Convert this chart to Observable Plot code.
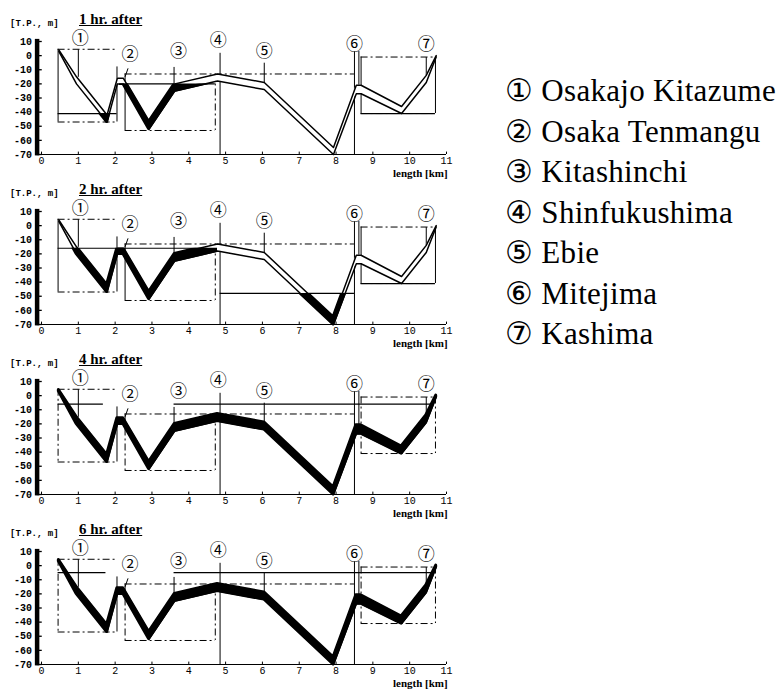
<!DOCTYPE html>
<html><head><meta charset="utf-8">
<script src="https://cdn.jsdelivr.net/npm/d3@7"></script>
<script src="https://cdn.jsdelivr.net/npm/@observablehq/plot@0.6"></script>
<style>
body{margin:0;background:#fff;}
#wrap{position:relative;width:783px;height:691px;overflow:hidden;background:#fff;}
.panel{position:absolute;left:0;}
.unit{position:absolute;left:10px;font:bold 9px "Liberation Mono",monospace;white-space:nowrap;}
.ptitle{position:absolute;left:79px;font:bold 15px/16px "Liberation Serif",serif;text-decoration:underline;white-space:nowrap;}
.len{position:absolute;left:393px;font:bold 11px/13px "Liberation Serif",serif;white-space:nowrap;}
.legend{position:absolute;left:505px;top:71px;font:31px "Liberation Serif",serif;line-height:40.5px;letter-spacing:0.3px;white-space:nowrap;}
</style></head><body><div id="wrap"></div>
<script>
// ---- data ----
const panelTitles = ["1 hr. after", "2 hr. after", "4 hr. after", "6 hr. after"];
const yUnit = "[T.P., m]";
const xLabel = "length [km]";
const xTicks = [0,1,2,3,4,5,6,7,8,9,10,11];
const yTicks = [10,0,-10,-20,-30,-40,-50,-60,-70];

// tunnel profile (km, top and bottom elevation in T.P. m)
const tunnelX      = [0.47, 0.95, 1.78, 2.06, 2.22, 2.92, 3.62, 4.78, 6.05, 7.93, 8.55, 8.68, 9.78, 10.45, 10.72];
const tunnelTop    = [4,    -15,  -42,  -16,  -16,  -47,  -20,  -13,  -19,  -65,  -21,  -21,  -36,  -14,   0];
const tunnelBottom = [3,    -20,  -47,  -20,  -20,  -52,  -25,  -18,  -24,  -70,  -27,  -27,  -41,  -19,  -1];

// stations
const stationMarks = ["①","②","③","④","⑤","⑥","⑦"];
const stationNames = ["Osakajo Kitazume","Osaka Tenmangu","Kitashinchi","Shinfukushima","Ebie","Mitejima","Kashima"];
const stationLabelX = [1.05, 2.4, 3.72, 4.8, 6.05, 8.5, 10.45];
const stationLabelY = [11.8, 1, 3, 11, 3, 8, 8];
const stationTopX   = [1.0, 2.35, 3.6, 4.85, 6.05, 8.5, 10.45];
const stationBotX   = [1.0, 2.27, 3.6, 4.85, 6.05, 8.5, 10.45];
const stationTopY   = [4.5, -9, -8, 2, -5, 3, -1];
const stationBotY   = [-15, -15, -20, -70, -19, -70, -14];

// catchment boxes (dash-dot)
const boxX1 = [0.45, 2.27, 4.72, 8.68];
const boxX2 = [2.05, 4.72, 8.5, 10.7];
const boxTop = [4.5, -13, -13, -1];
const boxBottom = [-47, -53, -70, -41];

// water surface lines per panel: [x1, x2, level]
const waterLines = [
  [[0.45, 2.05, -41], [2.27, 4.72, -20], [8.68, 10.7, -41]],
  [[0.45, 4.72, -16], [4.85, 8.5, -48], [8.68, 10.7, -41]],
  [[0.45, 1.68, -6], [3.6, 10.65, -6]],
  [[0.45, 1.75, -5], [3.6, 10.65, -5]]
];
// flooded tunnel regions per panel: [x1, x2, level]
const floodRegions = [
  [[0.4, 2.12, -41], [2.12, 4.78, -20]],
  [[0.4, 4.78, -16], [4.78, 8.55, -48]],
  [[0.4, 10.8, 10]],
  [[0.4, 10.8, 10]]
];

// ---- build ----
const tunnel = tunnelX.map((x, i) => ({x, top: tunnelTop[i], bottom: tunnelBottom[i]}));
const stations = stationMarks.map((m, i) => ({m, lx: stationLabelX[i], ly: stationLabelY[i],
  tx: stationTopX[i], bx: stationBotX[i], ty: stationTopY[i], by: stationBotY[i]}));
const boxes = boxX1.map((x1, i) => ({x1, x2: boxX2[i], top: boxTop[i], bottom: boxBottom[i]}));

const wrap = document.getElementById("wrap");
const W = 460, H = 170, X0 = -0.12;
const dash = "7,3,2,3";

panelTitles.forEach((title, p) => {
  const top = p * 170;
  const lines = waterLines[p].map(([x1, x2, y]) => ({x1, x2, y}));
  const floods = floodRegions[p];
  const marks = [
    // boxes
    Plot.ruleY(boxes, {y: "top", x1: "x1", x2: "x2", strokeDasharray: dash, strokeWidth: 1}),
    Plot.ruleY(boxes.filter(b => b.bottom > -70), {y: "bottom", x1: "x1", x2: "x2", strokeDasharray: dash, strokeWidth: 1}),
    Plot.ruleX(boxes.slice(0, 2), {x: "x1", y1: "top", y2: "bottom", strokeWidth: 1, strokeDasharray: p < 2 ? null : dash}),
    Plot.ruleX(boxes.slice(0, 1), {x: "x2", y1: -8, y2: "bottom", strokeWidth: 1}),
    Plot.ruleX(boxes.slice(1, 2), {x: "x2", y1: "top", y2: "bottom", strokeWidth: 1, strokeDasharray: dash}),
    Plot.ruleX(boxes.slice(3), {x: "x1", y1: "top", y2: "bottom", strokeWidth: 1, strokeDasharray: p < 2 ? null : dash}),
    Plot.ruleX(boxes.slice(3), {x: "x2", y1: "top", y2: "bottom", strokeWidth: 1, strokeDasharray: p < 2 ? null : dash}),
    // water surface
    Plot.ruleY(lines, {y: "y", x1: "x1", x2: "x2", strokeWidth: 1.2}),
    // station lines
    Plot.link(stations, {x1: "tx", y1: "ty", x2: "bx", y2: "by", strokeWidth: 1}),
    Plot.ruleX([8.62], {y1: 3, y2: -21, strokeWidth: 1}),
    // tunnel interior
    Plot.areaY(tunnel, {x: "x", y1: "bottom", y2: "top", fill: "white"}),
    Plot.line(tunnel, {x: "x", y: "top", stroke: "black", strokeWidth: 1.5}),
    Plot.line(tunnel, {x: "x", y: "bottom", stroke: "black", strokeWidth: 1.5}),
    ...floods.map(() => Plot.areaY(tunnel, {x: "x", y1: "bottom", y2: "top", fill: "black",
      stroke: "black", strokeWidth: 3, strokeLinejoin: "round"})),
    // axes
    Plot.ruleX([X0], {y1: -71, y2: 11.5, strokeWidth: 4.5}),
    Plot.ruleY(yTicks, {y: d => d, x1: X0, x2: 0.02, strokeWidth: 1.3}),
    Plot.ruleY([-70], {x1: X0, x2: 11, strokeWidth: 1.2}),
    Plot.ruleX(xTicks, {x: d => d, y1: -70, y2: -68.3, strokeWidth: 1}),
    Plot.axisY({ticks: yTicks, tickSize: 0, tickPadding: 5, tickFormat: d => String(d),
      fontSize: 10, fontFamily: "Liberation Mono", fontWeight: "bold", label: null}),
    Plot.axisX({ticks: xTicks, tickSize: 0, tickPadding: 2, tickFormat: d => String(d),
      fontSize: 10, fontFamily: "Liberation Mono", label: null}),
    // station labels
    Plot.text(stations, {x: "lx", y: "ly", text: "m", fontSize: 17, fontFamily: "Noto Sans CJK JP", fill: "black"})
  ];
  const svg = Plot.plot({
    width: W, height: H,
    marginTop: 41, marginBottom: 16, marginLeft: 36.6, marginRight: 14,
    x: {domain: [X0, 11]},
    y: {domain: [-70, 10]},
    style: {background: "transparent", overflow: "visible", color: "black"},
    marks
  });
  svg.classList.add("panel");
  svg.style.top = top + "px";
  svg.style.position = "absolute";
  svg.style.left = "0px";

  // clip the flooded parts of the tunnel to below each water level
  const sxo = svg.scale("x"), syo = svg.scale("y");
  const fx = sxo.apply ? (v => sxo.apply(v)) : d3.scaleLinear(sxo.domain, sxo.range);
  const fy = syo.apply ? (v => syo.apply(v)) : d3.scaleLinear(syo.domain, syo.range);
  const areas = svg.querySelectorAll('g[aria-label="area"]');
  const ns = "http://www.w3.org/2000/svg";
  const defs = document.createElementNS(ns, "defs");
  svg.insertBefore(defs, svg.firstChild);
  floods.forEach(([x1, x2, level], j) => {
    const cp = document.createElementNS(ns, "clipPath");
    cp.setAttribute("id", `flood-${p}-${j}`);
    const r = document.createElementNS(ns, "rect");
    const px1 = fx(x1), px2 = fx(x2), py1 = fy(level), py2 = fy(-75);
    r.setAttribute("x", Math.min(px1, px2)); r.setAttribute("width", Math.abs(px2 - px1));
    r.setAttribute("y", Math.min(py1, py2)); r.setAttribute("height", Math.abs(py2 - py1));
    cp.appendChild(r); defs.appendChild(cp);
    const g = areas[j + 1];
    if (g) g.setAttribute("clip-path", `url(#flood-${p}-${j})`);
  });
  wrap.appendChild(svg);

  const u = document.createElement("div");
  u.className = "unit"; u.textContent = yUnit; u.style.top = (top + 19) + "px";
  wrap.appendChild(u);
  const t = document.createElement("div");
  t.className = "ptitle"; t.textContent = title; t.style.top = (top + 11) + "px";
  wrap.appendChild(t);
  const l = document.createElement("div");
  l.className = "len"; l.textContent = xLabel; l.style.top = (top + 167) + "px";
  wrap.appendChild(l);
});

const leg = document.createElement("div");
leg.className = "legend";
leg.innerHTML = stationNames.map((n, i) => `<div>${stationMarks[i]} ${n}</div>`).join("");
wrap.appendChild(leg);
</script></body></html>
